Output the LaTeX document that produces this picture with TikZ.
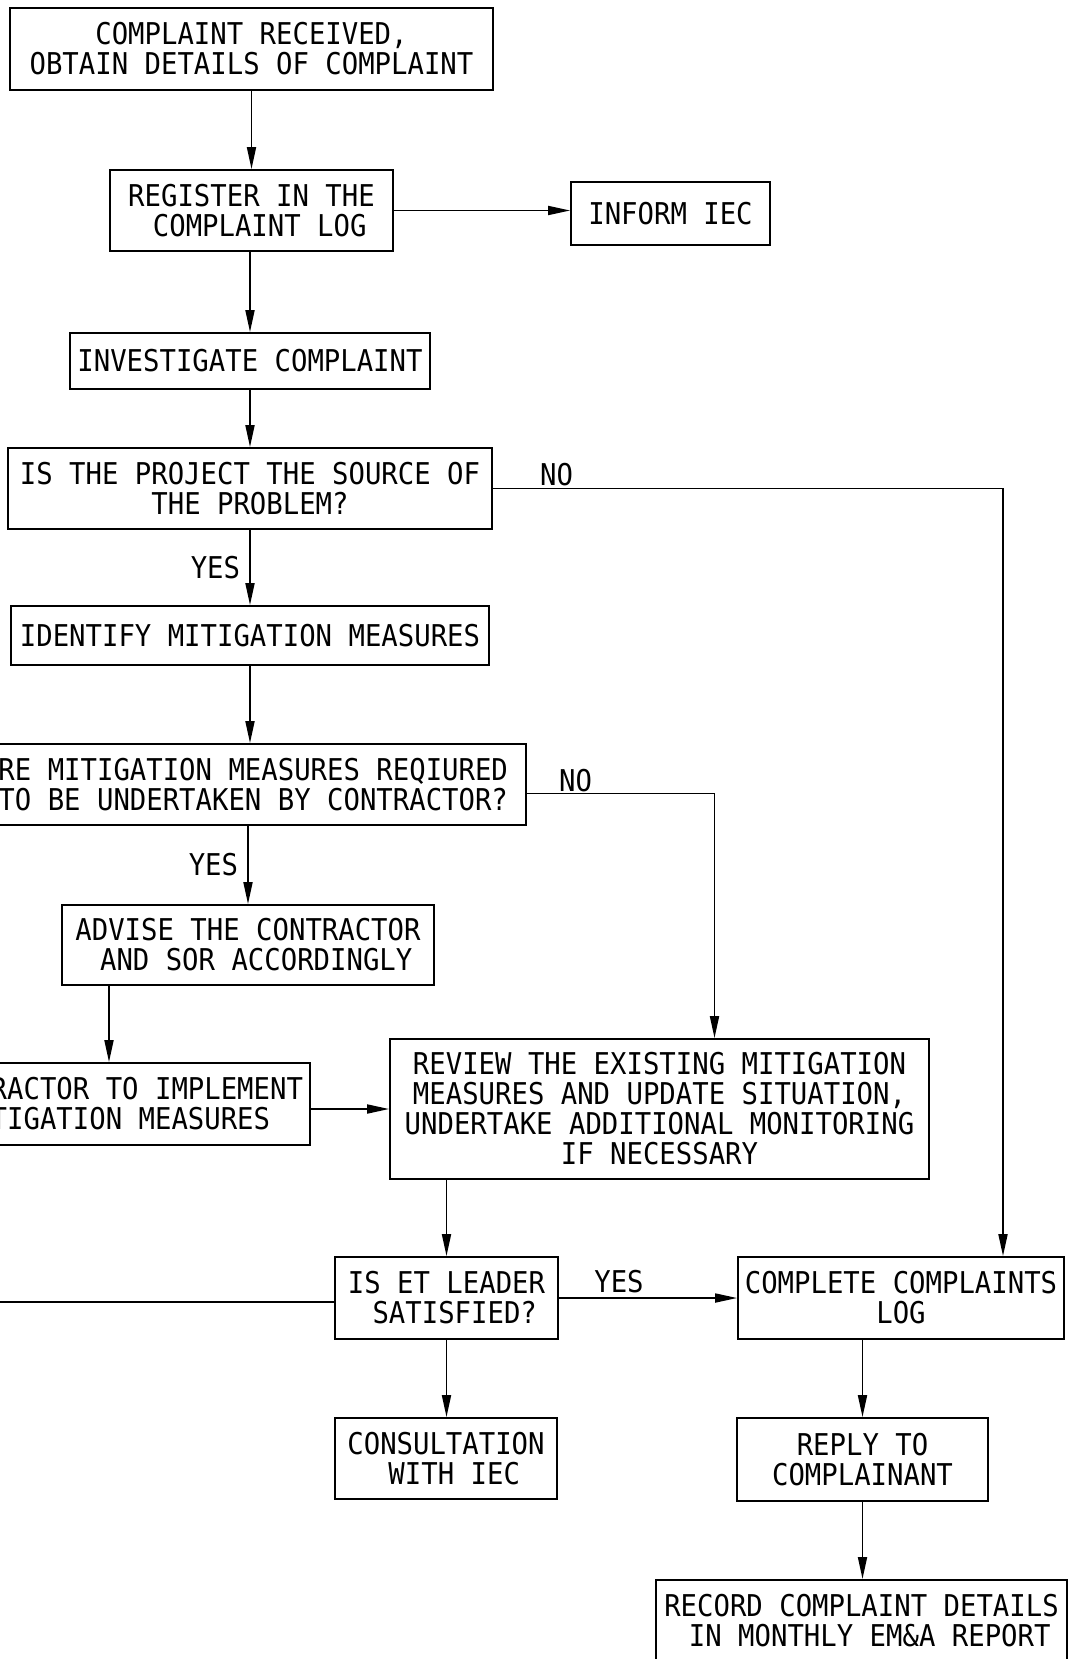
\documentclass[tikz,border=0pt]{standalone}
\usepackage{fontspec}
\setmonofont[FakeStretch=0.91]{DejaVu Sans Mono}
\usetikzlibrary{arrows.meta,calc}
\newcommand\cadfont{\ttfamily\fontsize{30}{30}\selectfont}
\tikzset{
  box/.style={draw, line width=1.8pt, inner sep=0pt, align=center, font=\cadfont},
  lbl/.style={inner sep=0pt, font=\cadfont},
  arr/.style={line width=1.8pt, -{Triangle[length=22pt,width=9pt]}},
  ln/.style={line width=1.8pt},
}
\begin{document}
\begin{tikzpicture}[x=1pt,y=-1pt]
\fill[white] (0,0) rectangle (1076,1659);
\useasboundingbox (0,0) rectangle (1076,1659);
\clip (0,0) rectangle (1076,1659);

\node[box, minimum width=483pt, minimum height=82pt] (rec) at (251.5,49) {COMPLAINT RECEIVED,\\OBTAIN DETAILS OF COMPLAINT};
\node[box, minimum width=283pt, minimum height=81pt] (reg) at (251.5,210.5) {REGISTER IN THE\\\hphantom{X}COMPLAINT LOG};
\node[box, minimum width=199pt, minimum height=63pt] (iec) at (670.5,213.5) {INFORM IEC};
\node[box, minimum width=360pt, minimum height=56pt] (inv) at (250,361) {INVESTIGATE COMPLAINT};
\node[box, minimum width=484pt, minimum height=81pt] (src) at (250,488.5) {IS THE PROJECT THE SOURCE OF\\THE PROBLEM?};
\node[box, minimum width=478pt, minimum height=59pt] (idm) at (250,635.5) {IDENTIFY MITIGATION MEASURES};
\node[box, minimum width=562pt, minimum height=81pt] (req) at (245,784.5) {ARE MITIGATION MEASURES REQIURED\\\hphantom{X}TO BE UNDERTAKEN BY CONTRACTOR?};
\node[box, minimum width=372pt, minimum height=80pt] (adv) at (248,945) {ADVISE THE CONTRACTOR\\\hphantom{X}AND SOR ACCORDINGLY};
\node[box, minimum width=392pt, minimum height=82pt] (imp) at (114,1104) {CONTRACTOR TO IMPLEMENT\\MITIGATION MEASURES};
\node[box, minimum width=539pt, minimum height=140pt] (rev) at (659.5,1109) {REVIEW THE EXISTING MITIGATION\\MEASURES AND UPDATE SITUATION,\\UNDERTAKE ADDITIONAL MONITORING\\IF NECESSARY};
\node[box, minimum width=223pt, minimum height=82pt] (et) at (446.5,1298) {IS ET LEADER\\\hphantom{X}SATISFIED?};
\node[box, minimum width=326pt, minimum height=82pt] (cmp) at (901,1298) {COMPLETE COMPLAINTS\\LOG};
\node[box, minimum width=222pt, minimum height=81pt] (con) at (446,1458.5) {CONSULTATION\\\hphantom{X}WITH IEC};
\node[box, minimum width=251pt, minimum height=83pt] (rep) at (862.5,1459.5) {REPLY TO\\COMPLAINANT};
\node[box, minimum width=411pt, minimum height=120pt, anchor=north] (rcd) at (861.5,1579) {};
\node[lbl, align=center] (rcdt) at (861.5,1621) {RECORD COMPLAINT DETAILS\\\hphantom{X}IN MONTHLY EM\&A REPORT};

% labels
\node[lbl, anchor=base west] (no1) at (540,485) {NO};
\node[lbl, anchor=base west] (no2) at (559,791) {NO};
\node[lbl, anchor=base] (yes3) at (619,1292) {YES};

% connectors
\draw[arr] (reg.north |- rec.south) -- (reg.north);
\draw[arr] (reg.east) -- (reg.east -| iec.west);
\draw[arr] (inv.north |- reg.south) -- (inv.north);
\draw[arr] (src.north |- inv.south) -- (src.north);
\draw[arr] (idm.north |- src.south) -- node[lbl, left=9pt] (yes1) {YES} (idm.north);
\draw[arr] (src.east) -| ([xshift=102pt]cmp.north);
\draw[arr] (idm.south -| 250,0) -- (req.north -| 250,0);
\draw[arr] ([yshift=-9pt]req.east) -| ([xshift=55pt]rev.north);
\draw[arr] (req.south -| adv.north) -- node[lbl, left=9pt] (yes2) {YES} (adv.north);
\draw[arr] (109,0 |- adv.south) -- (109,0 |- imp.north);
\draw[arr] (rev.west -| imp.east) -- (rev.west);
\draw[arr] (et.north |- rev.south) -- (et.north);
\draw[arr] (et.east) -- (et.east -| cmp.west);
\coordinate (etl) at (-20,1302);
\draw[ln] (etl -| et.west) -- (etl);
\draw[arr] (et.south) -- (et.south |- con.north);
\draw[arr] (rep.north |- cmp.south) -- (rep.north);
\draw[arr] (rep.south) -- (rep.south |- rcd.north);
\end{tikzpicture}
\end{document}
